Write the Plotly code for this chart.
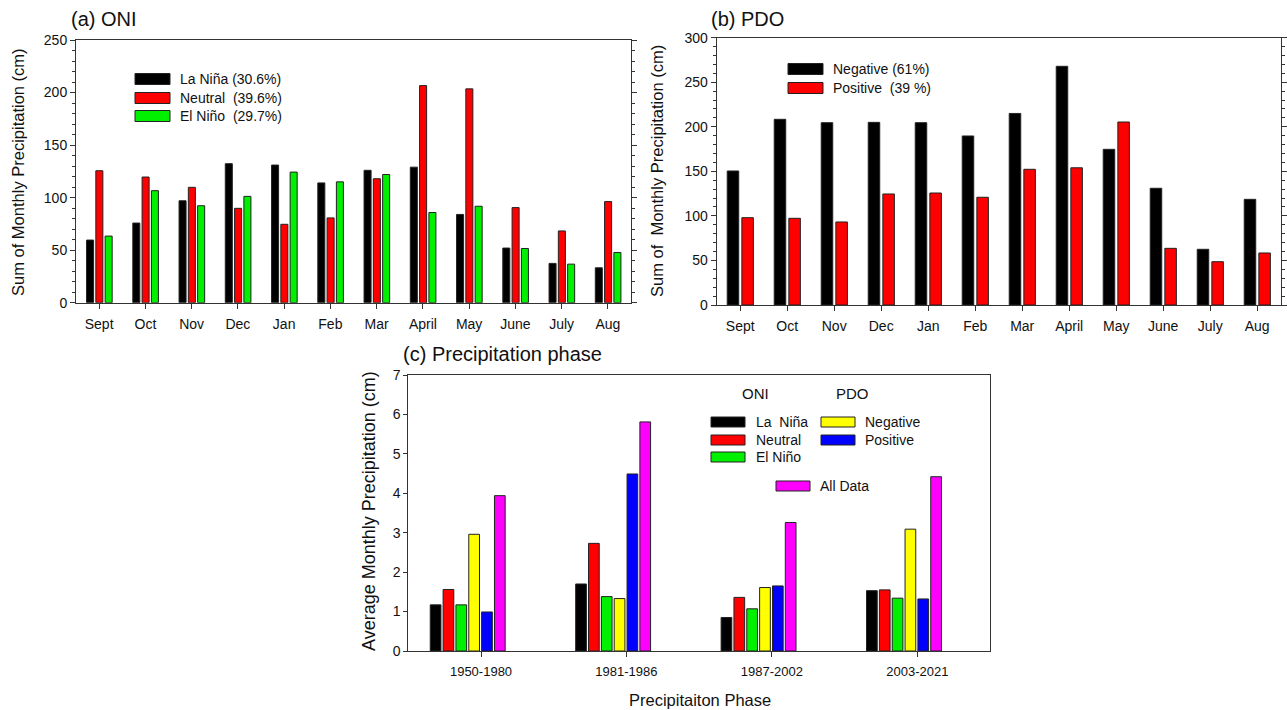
import plotly.graph_objects as go

W, H = 1287, 710

# ---------------- data ----------------
months = ["Sept", "Oct", "Nov", "Dec", "Jan", "Feb", "Mar", "April", "May", "June", "July", "Aug"]

oni_la_nina = [59.6, 75.8, 97, 132.3, 131, 114, 126, 129, 84, 52, 37.4, 33.2]
oni_neutral = [125.6, 119.6, 109.8, 89.8, 74.6, 80.7, 118, 206.6, 203.5, 90.5, 68.3, 96.2]
oni_el_nino = [63.4, 106.6, 92.3, 101.2, 124.3, 115, 122, 85.8, 91.8, 51.6, 36.7, 47.8]

pdo_negative = [150.4, 208.4, 204.6, 205, 204.6, 189.7, 215, 267.9, 174.7, 131, 62.5, 118.6]
pdo_positive = [98, 97.3, 93.2, 124.6, 125.7, 120.9, 152.3, 154, 205.4, 63.6, 48.6, 58.4]

phases = ["1950-1980", "1981-1986", "1987-2002", "2003-2021"]
ph_la_nina = [1.17, 1.70, 0.85, 1.53]
ph_neutral = [1.56, 2.73, 1.36, 1.55]
ph_el_nino = [1.17, 1.38, 1.07, 1.34]
ph_pdo_neg = [2.96, 1.33, 1.61, 3.09]
ph_pdo_pos = [0.99, 4.49, 1.65, 1.32]
ph_all = [3.94, 5.81, 3.26, 4.42]

# ---------------- style ----------------
FONT = "Arial, Liberation Sans, sans-serif"
BLACK, RED, GREEN, YELLOW, BLUE, MAGENTA = "#000000", "#ff0000", "#00f000", "#ffff00", "#0000ff", "#ff00ff"
EDGE = "#222222"
AX = "#333333"


def px(x):
    return x / W


def py(y):
    return 1 - y / H


fig = go.Figure()

# panel (a)
a_offsets = [-0.272, -0.071, 0.13]
for vals, col, off in zip([oni_la_nina, oni_neutral, oni_el_nino], [BLACK, RED, GREEN], a_offsets):
    fig.add_trace(go.Bar(x=months, y=vals, xaxis="x", yaxis="y", marker=dict(color=col, line=dict(color=EDGE, width=1)),
                         width=0.152, offset=off, showlegend=False))

# panel (b)
b_offsets = [-0.276, 0.035]
for vals, col, off in zip([pdo_negative, pdo_positive], [BLACK, RED], b_offsets):
    fig.add_trace(go.Bar(x=months, y=vals, xaxis="x2", yaxis="y2", marker=dict(color=col, line=dict(color=EDGE, width=1)),
                         width=0.245, offset=off, showlegend=False))

# panel (c)
c_series = [ph_la_nina, ph_neutral, ph_el_nino, ph_pdo_neg, ph_pdo_pos, ph_all]
c_colors = [BLACK, RED, GREEN, YELLOW, BLUE, MAGENTA]
for i, (vals, col) in enumerate(zip(c_series, c_colors)):
    fig.add_trace(go.Bar(x=phases, y=vals, xaxis="x3", yaxis="y3", marker=dict(color=col, line=dict(color=EDGE, width=1)),
                         width=0.0736, offset=-0.349 + i * 0.0883, showlegend=False))

common_x = dict(showline=True, linecolor=AX, linewidth=1, mirror=True, ticks="outside", ticklen=5, tickcolor=AX,
                showgrid=False, zeroline=False, tickfont=dict(family=FONT, size=14, color="#111"), range=[-0.5, 11.5],
                type="category", automargin=False, ticklabelstandoff=3)
common_y = dict(showline=True, linecolor=AX, linewidth=1, mirror="allticks", ticks="outside", ticklen=5, tickcolor=AX,
                showgrid=False, zeroline=False, tickfont=dict(family=FONT, size=14, color="#111"), automargin=False)

fig.update_layout(
    width=W, height=H, margin=dict(l=0, r=0, t=0, b=0, pad=0, autoexpand=False),
    paper_bgcolor="white", plot_bgcolor="white", barmode="overlay",
    font=dict(family=FONT, color="#111"),
    xaxis=dict(common_x, domain=[px(76), px(631)], anchor="y"),
    yaxis=dict(common_y, domain=[py(302.7), py(40)], anchor="x", range=[0, 250], dtick=50,
               minor=dict(dtick=10, ticks="outside", ticklen=3, tickcolor=AX)),
    xaxis2=dict(common_x, domain=[px(716.7), px(1280.7)], anchor="y2"),
    yaxis2=dict(common_y, domain=[py(305), py(37.7)], anchor="x2", range=[0, 300], dtick=50,
                minor=dict(dtick=10, ticks="outside", ticklen=3, tickcolor=AX)),
    xaxis3=dict(common_x, domain=[px(408.3), px(990)], anchor="y3", range=[-0.5, 3.5],
                tickfont=dict(family=FONT, size=13, color="#111")),
    yaxis3=dict(common_y, domain=[py(651), py(375)], anchor="x3", range=[0, 7], dtick=1, mirror=True, ticklen=4),
)

ann = []
shapes = []


def text(x, y, s, size=14, xanchor="left", angle=0):
    ann.append(dict(x=px(x), y=py(y), xref="paper", yref="paper", text=s, showarrow=False, xanchor=xanchor,
                    yanchor="middle", textangle=angle, font=dict(family=FONT, size=size, color="#111")))


def swatch(x0, x1, yc, col, h=11):
    shapes.append(dict(type="rect", xref="paper", yref="paper", x0=px(x0), x1=px(x1), y0=py(yc + h / 2),
                       y1=py(yc - h / 2), fillcolor=col, line=dict(color=EDGE, width=1)))


# titles
text(69, 19, "(a) ONI", size=20)
text(709, 19, "(b) PDO", size=20)
text(401, 354, "(c) Precipitation phase", size=20)

# axis titles
text(18, 172, "Sum of Monthly Precipitation (cm)", size=16.5, xanchor="center", angle=-90)
text(657, 171, "Sum of \u00a0Monthly Precipitation (cm)", size=16.5, xanchor="center", angle=-90)
text(369, 511, "Average Monthly Precipitation (cm)", size=18, xanchor="center", angle=-90)
text(700, 700, "Precipitaiton Phase", size=16.5, xanchor="center")

# legend (a)
for yc, col, lab in zip([79, 98, 116], [BLACK, RED, GREEN],
                        ["La Niña (30.6%)", "Neutral \u00a0(39.6%)", "El Niño \u00a0(29.7%)"]):
    swatch(135, 170, yc, col)
    text(178, yc, lab)

# legend (b)
for yc, col, lab in zip([69, 88], [BLACK, RED], ["Negative (61%)", "Positive \u00a0(39 %)"]):
    swatch(788, 823, yc, col)
    text(831, yc, lab)

# legend (c)
text(755, 393, "ONI", size=15, xanchor="center")
text(853, 393, "PDO", size=15, xanchor="center")
for yc, col, lab in zip([422, 440, 457], [BLACK, RED, GREEN], ["La \u00a0Niña", "Neutral", "El Niño"]):
    swatch(711, 745, yc, col, h=10)
    text(754, yc, lab)
for yc, col, lab in zip([422, 440], [YELLOW, BLUE], ["Negative", "Positive"]):
    swatch(821, 855, yc, col, h=10)
    text(863, yc, lab)
swatch(776, 810, 486, MAGENTA, h=10)
text(818, 486, "All Data")

fig.update_layout(annotations=ann, shapes=shapes)

fig.write_html("out.html", config={"displayModeBar": False},
               post_script="document.body.style.margin='0';document.body.style.overflow='hidden';")
